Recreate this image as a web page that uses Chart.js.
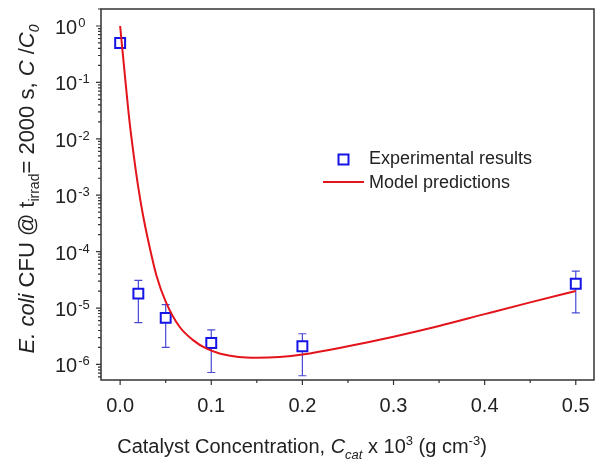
<!DOCTYPE html>
<html>
<head>
<meta charset="utf-8">
<script src="https://cdn.jsdelivr.net/npm/chart.js@4.4.0/dist/chart.umd.min.js"></script>
<style>
  html, body { margin: 0; padding: 0; background: #fff; }
  #wrap { width: 603px; height: 466px; }
</style>
</head>
<body>
<div id="wrap"><canvas id="chart"></canvas></div>
<script>
// experimental points
const expX = [0, 0.02, 0.05, 0.1, 0.2, 0.5];
const expY = [0.5, 1.8e-5, 6.7e-6, 2.4e-6, 2.1e-6, 2.7e-5];
const expHigh = [null, 3.1e-5, 1.15e-5, 4.1e-6, 3.5e-6, 4.5e-5];
const expLow = [null, 5.5e-6, 2.0e-6, 7.2e-7, 6.3e-7, 8.2e-6];

// model curve
const modelX = [0, 0.005, 0.01, 0.015, 0.02, 0.025, 0.03, 0.04, 0.05, 0.065, 0.08, 0.095, 0.11, 0.13, 0.15, 0.175, 0.2, 0.25, 0.3, 0.35, 0.4, 0.45, 0.5];
const modelY = [1, 0.145, 0.0224, 5.0e-3, 1.35e-3, 4.5e-4, 1.8e-4, 3.7e-5, 1.3e-5, 4.7e-6, 2.7e-6, 1.9e-6, 1.55e-6, 1.36e-6, 1.32e-6, 1.36e-6, 1.5e-6, 2.1e-6, 3.1e-6, 4.8e-6, 7.8e-6, 1.26e-5, 2.0e-5];

const xTicks = [0, 0.1, 0.2, 0.3, 0.4, 0.5];
const xMinorTicks = [0.05, 0.15, 0.25, 0.35, 0.45];
const yDecades = [0, -1, -2, -3, -4, -5, -6];

const FONT = '"Liberation Sans", Arial, sans-serif';
const INK = '#222';
const FRAME = '#333';
const BLUE = '#1414e6';
const ERRBLUE = '#4a4ad6';
const RED = '#e3141b';

// draws a row of text pieces, centred on x
function richText(ctx, parts, cx, y) {
  let w = 0;
  parts.forEach(p => {
    ctx.font = (p.italic ? 'italic ' : '') + p.size + 'px ' + FONT;
    p.w = ctx.measureText(p.t).width;
    w += p.w;
  });
  let x = cx - w / 2;
  ctx.textAlign = 'left';
  ctx.textBaseline = 'alphabetic';
  parts.forEach(p => {
    ctx.font = (p.italic ? 'italic ' : '') + p.size + 'px ' + FONT;
    ctx.fillText(p.t, x, y + (p.dy || 0));
    x += p.w;
  });
}

const errorBars = {
  id: 'errorBars',
  beforeDatasetsDraw(chart) {
    const ctx = chart.ctx;
    const xs = chart.scales.x, ys = chart.scales.y;
    ctx.save();
    ctx.strokeStyle = ERRBLUE;
    ctx.lineWidth = 1.2;
    expX.forEach((v, i) => {
      if (expHigh[i] == null) return;
      const px = xs.getPixelForValue(v);
      const top = ys.getPixelForValue(expHigh[i]);
      const bot = ys.getPixelForValue(expLow[i]);
      ctx.beginPath();
      ctx.moveTo(px, top); ctx.lineTo(px, bot);
      ctx.moveTo(px - 4, top); ctx.lineTo(px + 4, top);
      ctx.moveTo(px - 4, bot); ctx.lineTo(px + 4, bot);
      ctx.stroke();
    });
    ctx.restore();
  }
};

const frameAndLabels = {
  id: 'frameAndLabels',
  afterDraw(chart) {
    const ctx = chart.ctx;
    const a = chart.chartArea;
    const xs = chart.scales.x, ys = chart.scales.y;
    ctx.save();

    // frame
    ctx.strokeStyle = FRAME;
    ctx.lineWidth = 1.5;
    ctx.strokeRect(a.left, a.top, a.right - a.left, a.bottom - a.top);

    // x ticks
    ctx.lineWidth = 1.2;
    ctx.beginPath();
    xTicks.forEach(v => {
      const px = xs.getPixelForValue(v);
      ctx.moveTo(px, a.bottom); ctx.lineTo(px, a.bottom + 5);
    });
    xMinorTicks.forEach(v => {
      const px = xs.getPixelForValue(v);
      ctx.moveTo(px, a.bottom); ctx.lineTo(px, a.bottom + 3);
    });
    // y ticks
    for (let e = -7; e <= 0; e++) {
      for (let m = 1; m <= 9; m++) {
        const v = m * Math.pow(10, e);
        if (v < ys.min || v > ys.max) continue;
        const py = ys.getPixelForValue(v);
        ctx.moveTo(a.left, py); ctx.lineTo(a.left - (m === 1 ? 5 : 3), py);
      }
    }
    ctx.stroke();

    // y tick labels with superscript
    ctx.fillStyle = INK;
    ctx.textBaseline = 'alphabetic';
    ctx.textAlign = 'left';
    yDecades.forEach(e => {
      const py = ys.getPixelForValue(Math.pow(10, e));
      ctx.font = '20px ' + FONT;
      ctx.fillText('10', 55, py + 8);
      const w = ctx.measureText('10').width;
      ctx.font = '13px ' + FONT;
      ctx.fillText(String(e), 55 + w + 1, py + 1);
    });

    // x axis title
    richText(ctx, [
      { t: 'Catalyst Concentration, ', size: 20 },
      { t: 'C', size: 20, italic: true },
      { t: 'cat', size: 13, italic: true, dy: 6 },
      { t: ' x 10', size: 20 },
      { t: '3', size: 13, dy: -8 },
      { t: ' (g cm', size: 20 },
      { t: '-3', size: 13, dy: -8 },
      { t: ')', size: 20 }
    ], 302, 453);

    // y axis title
    ctx.save();
    ctx.translate(34, 189);
    ctx.rotate(-Math.PI / 2);
    richText(ctx, [
      { t: 'E. coli', size: 22, italic: true },
      { t: ' CFU @ t', size: 22 },
      { t: 'irrad', size: 14, dy: 5 },
      { t: '= 2000 s, ', size: 22 },
      { t: 'C', size: 22, italic: true },
      { t: ' /', size: 22 },
      { t: 'C', size: 22, italic: true },
      { t: '0', size: 14, italic: true, dy: 5 }
    ], 0, 0);
    ctx.restore();

    // legend
    const ds = chart.data.datasets;
    ctx.font = '18px ' + FONT;
    ctx.textBaseline = 'middle';
    ctx.fillStyle = INK;
    ctx.strokeStyle = BLUE;
    ctx.lineWidth = 2;
    ctx.strokeRect(338.5, 154.5, 10, 10);
    ctx.fillText(ds[1].label, 369, 159);
    ctx.strokeStyle = RED;
    ctx.beginPath();
    ctx.moveTo(323, 182); ctx.lineTo(364, 182);
    ctx.stroke();
    ctx.fillText(ds[0].label, 369, 183);

    ctx.restore();
  }
};

new Chart(document.getElementById('chart'), {
  type: 'scatter',
  data: {
    datasets: [
      {
        type: 'line',
        label: 'Model predictions',
        data: modelX.map((x, i) => ({ x, y: modelY[i] })),
        borderColor: RED,
        borderWidth: 2,
        pointRadius: 0,
        cubicInterpolationMode: 'monotone',
        fill: false
      },
      {
        label: 'Experimental results',
        data: expX.map((x, i) => ({ x, y: expY[i] })),
        pointStyle: 'rect',
        pointRadius: 7,
        borderColor: BLUE,
        backgroundColor: '#fff',
        borderWidth: 2
      }
    ]
  },
  options: {
    responsive: true,
    maintainAspectRatio: false,
    animation: false,
    layout: { padding: { top: 7, right: 8, left: 0, bottom: 0 } },
    plugins: { legend: { display: false }, tooltip: { enabled: false } },
    scales: {
      x: {
        type: 'linear',
        min: -0.021,
        max: 0.52,
        bounds: 'data',
        grid: { display: false },
        border: { display: false },
        afterBuildTicks: s => { s.ticks = xTicks.map(value => ({ value })); },
        afterFit: s => { s.height = 86; },
        ticks: {
          padding: 6,
          color: INK,
          font: { family: FONT, size: 20 },
          callback: v => v.toFixed(1),
          maxRotation: 0,
          autoSkip: false
        }
      },
      y: {
        type: 'logarithmic',
        min: 5.3e-7,
        max: 2.0,
        bounds: 'data',
        grid: { display: false },
        border: { display: false },
        ticks: { display: false },
        afterFit: s => { s.width = 101; }
      }
    }
  },
  plugins: [errorBars, frameAndLabels]
});
</script>
</body>
</html>
